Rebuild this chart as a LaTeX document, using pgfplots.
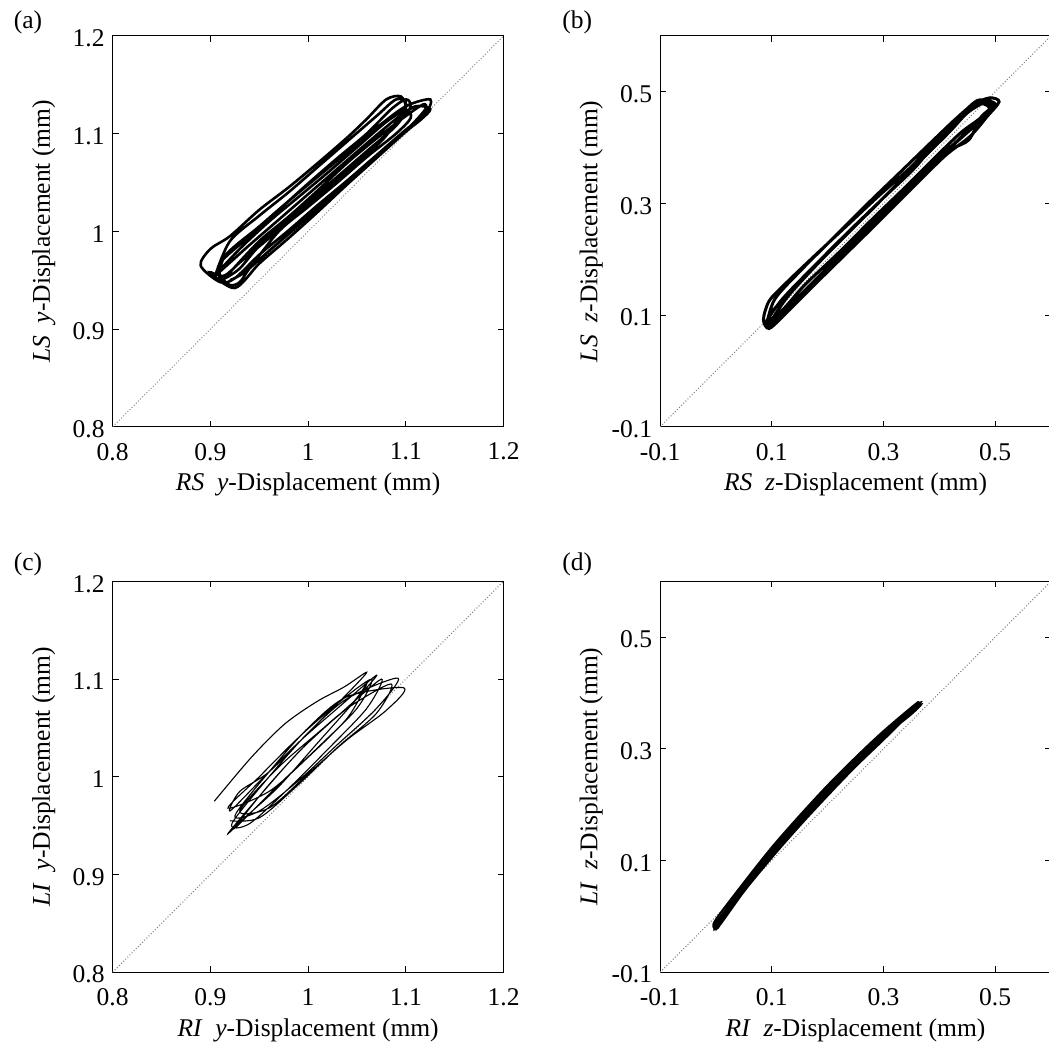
\documentclass[border=0pt]{standalone}
\usepackage{pgfplots}
\pgfplotsset{compat=1.18}
\usepackage{fontspec}
\setmainfont{Liberation Serif}
\begin{document}
\pgfplotsset{
  panel/.style={
    width=196pt,height=196pt,scale only axis,
    axis line style={line width=0.5pt},
    tick style={line width=0.5pt,black},
    tick align=inside, major tick length=3pt,
    xtick pos=both, ytick pos=both,
    font=\fontsize{12.8}{15}\selectfont,
    xticklabel style={anchor=center,yshift=-12.5pt},
    yticklabel style={anchor=east,yshift=-1.2pt,xshift=-0.5pt},
    xlabel style={at={(axis description cs:0.5,-0.148)},anchor=center},
    ylabel style={at={(axis description cs:-0.176,0.5)},anchor=center},
    clip=true,
  },
  pyy/.style={panel,xmin=0.8,xmax=1.2,ymin=0.8,ymax=1.2,
    xtick={0.8,0.9,1,1.1,1.2},xticklabels={0.8,0.9,1,1.1,1.2},
    ytick={0.8,0.9,1,1.1,1.2},yticklabels={0.8,0.9,1,1.1,1.2}},
  pzz/.style={panel,xmin=-0.1,xmax=0.6,ymin=-0.1,ymax=0.6,
    xtick={-0.1,0.1,0.3,0.5},xticklabels={-0.1,0.1,0.3,0.5},
    ytick={-0.1,0.1,0.3,0.5},yticklabels={-0.1,0.1,0.3,0.5}},
}
\begin{tikzpicture}
\useasboundingbox (0,0) rectangle (523.5pt,-524.5pt);
% (a)
\begin{axis}[pyy,anchor=north west,at={(54pt,-18pt)},
  xlabel={\textit{RS}\ \ \textit{y}-Displacement (mm)},
  ylabel={\textit{LS}\ \ \textit{y}-Displacement (mm)}]
\addplot[gray,densely dotted,line width=0.5pt] coordinates {(0.8,0.8)(1.2,1.2)};
\addplot[black,line width=1.3pt,smooth,tension=0.5] coordinates {
(0.905,0.955)(0.92,0.990)(0.95,1.016)(0.98,1.040)(1.01,1.066)(1.04,1.092)(1.07,1.118)(1.09,1.135)(1.10,1.130)(1.08,1.098)(1.05,1.070)(1.02,1.045)(0.99,1.020)(0.96,0.993)(0.93,0.968)(0.91,0.950)
(0.915,0.975)(0.95,1.005)(0.98,1.031)(1.01,1.056)(1.04,1.081)(1.07,1.106)(1.10,1.128)(1.125,1.135)(1.12,1.12)(1.10,1.104)(1.07,1.078)(1.04,1.052)(1.01,1.027)(0.98,1.001)(0.95,0.976)(0.925,0.952)(0.91,0.948)
(0.89,0.965)(0.90,0.982)(0.92,0.995)(0.95,1.022)(0.98,1.045)(1.01,1.070)(1.04,1.096)(1.06,1.115)(1.08,1.135)(1.095,1.138)(1.10,1.125)(1.09,1.108)(1.06,1.082)(1.03,1.056)(1.00,1.030)(0.97,1.004)(0.94,0.978)(0.915,0.955)(0.90,0.958)
(0.925,0.942)(0.95,0.967)(0.98,0.993)(1.01,1.020)(1.04,1.048)(1.07,1.075)(1.10,1.102)(1.115,1.114)(1.125,1.125)(1.11,1.128)(1.09,1.115)(1.06,1.09)(1.03,1.064)(1.00,1.038)(0.97,1.012)(0.94,0.986)(0.92,0.968)(0.905,0.955)
(0.93,0.982)(0.96,1.010)(0.99,1.035)(1.02,1.060)(1.05,1.086)(1.08,1.112)(1.10,1.124)(1.105,1.116)(1.09,1.10)(1.06,1.076)(1.03,1.05)(1.00,1.025)(0.97,1.0)(0.94,0.962)(0.93,0.948)(0.92,0.945)(0.91,0.955)
(0.91,0.968)(0.94,0.995)(0.97,1.022)(1.00,1.049)(1.03,1.075)(1.06,1.100)(1.085,1.125)(1.10,1.135)(1.105,1.128)(1.095,1.114)(1.07,1.090)(1.04,1.062)(1.01,1.036)(0.98,1.010)(0.95,0.985)(0.93,0.962)(0.915,0.952)
(0.92,0.958)(0.95,0.990)(0.98,1.015)(1.01,1.042)(1.04,1.070)(1.07,1.095)(1.10,1.118)(1.118,1.130)(1.12,1.125)(1.105,1.108)(1.08,1.085)(1.05,1.060)(1.02,1.033)(0.99,1.006)(0.96,0.980)(0.935,0.958)(0.92,0.950)
};
\end{axis}
% (b)
\begin{axis}[pzz,anchor=north west,at={(328.5pt,-18pt)},
  xlabel={\textit{RS}\ \ \textit{z}-Displacement (mm)},
  ylabel={\textit{LS}\ \ \textit{z}-Displacement (mm)}]
\addplot[gray,densely dotted,line width=0.5pt] coordinates {(-0.1,-0.1)(0.6,0.6)};
\addplot[black,line width=1.5pt,smooth,tension=0.5] coordinates {
(0.09,0.08)(0.105,0.128)(0.15,0.178)(0.21,0.238)(0.27,0.298)(0.33,0.356)(0.39,0.414)(0.43,0.452)(0.46,0.477)(0.49,0.489)(0.507,0.482)(0.485,0.455)(0.455,0.42)(0.41,0.385)(0.35,0.326)(0.29,0.266)(0.23,0.207)(0.17,0.148)(0.12,0.098)(0.095,0.076)
(0.085,0.092)(0.095,0.125)(0.12,0.152)(0.17,0.200)(0.23,0.256)(0.29,0.312)(0.35,0.366)(0.40,0.42)(0.44,0.458)(0.475,0.485)(0.50,0.476)(0.47,0.445)(0.44,0.418)(0.40,0.382)(0.34,0.322)(0.28,0.262)(0.22,0.202)(0.16,0.143)(0.11,0.094)(0.09,0.085)
(0.095,0.085)(0.13,0.135)(0.19,0.20)(0.25,0.26)(0.31,0.32)(0.37,0.38)(0.41,0.425)(0.44,0.455)(0.465,0.48)(0.49,0.47)(0.46,0.44)(0.43,0.41)(0.38,0.365)(0.32,0.305)(0.26,0.245)(0.20,0.185)(0.14,0.125)(0.10,0.085)
(0.09,0.088)(0.12,0.13)(0.18,0.192)(0.24,0.252)(0.30,0.31)(0.36,0.368)(0.41,0.432)(0.44,0.46)(0.47,0.485)(0.50,0.478)(0.475,0.455)(0.453,0.414)(0.42,0.395)(0.36,0.34)(0.30,0.283)(0.24,0.225)(0.18,0.165)(0.13,0.115)(0.095,0.082)
(0.10,0.105)(0.14,0.15)(0.20,0.212)(0.26,0.27)(0.32,0.33)(0.38,0.39)(0.42,0.43)(0.45,0.462)(0.48,0.48)(0.495,0.472)(0.47,0.45)(0.44,0.428)(0.40,0.39)(0.34,0.33)(0.28,0.272)(0.22,0.212)(0.16,0.155)(0.12,0.11)(0.095,0.09)
};
\end{axis}
% (c)
\begin{axis}[pyy,anchor=north west,at={(54pt,-291.5pt)},
  xlabel={\textit{RI}\ \ \textit{y}-Displacement (mm)},
  ylabel={\textit{LI}\ \ \textit{y}-Displacement (mm)}]
\addplot[gray,densely dotted,line width=0.5pt] coordinates {(0.8,0.8)(1.2,1.2)};
\addplot[black,line width=0.55pt,smooth,tension=0.5] coordinates {
(0.904,0.975)(0.942,1.020)(0.976,1.054)(1.009,1.077)(1.037,1.092)(1.06,1.107)(1.04,1.085)(1.00,1.045)(0.96,1.005)(0.93,0.985)
(0.92,0.965)(0.95,0.995)(0.99,1.035)(1.03,1.070)(1.07,1.104)(1.05,1.080)(1.01,1.035)(0.97,0.990)(0.935,0.958)
(0.918,0.942)(0.95,0.980)(0.99,1.025)(1.03,1.062)(1.075,1.100)(1.06,1.070)(1.02,1.028)(0.98,0.988)(0.94,0.952)
(0.922,0.952)(0.96,1.000)(1.00,1.045)(1.04,1.080)(1.092,1.101)(1.07,1.070)(1.03,1.033)(0.99,0.996)(0.95,0.965)
(0.925,0.960)(0.96,1.005)(1.00,1.050)(1.04,1.082)(1.098,1.091)(1.08,1.068)(1.04,1.038)(1.00,1.003)(0.96,0.968)
(0.93,0.965)(0.97,1.010)(1.01,1.045)(1.045,1.075)(1.06,1.095)(1.04,1.060)(1.00,1.020)(0.96,0.985)
(0.918,0.968)(0.95,1.000)(0.99,1.040)(1.03,1.075)(1.065,1.100)(1.05,1.070)(1.01,1.030)(0.97,0.992)(0.94,0.962)
(0.925,0.948)(0.96,0.992)(1.00,1.035)(1.04,1.070)(1.085,1.095)(1.07,1.065)(1.03,1.030)(0.99,0.992)(0.95,0.958)(0.92,0.955)
};
\end{axis}
% (d)
\begin{axis}[pzz,anchor=north west,at={(328.5pt,-291.5pt)},
  xlabel={\textit{RI}\ \ \textit{z}-Displacement (mm)},
  ylabel={\textit{LI}\ \ \textit{z}-Displacement (mm)}]
\addplot[gray,densely dotted,line width=0.5pt] coordinates {(-0.1,-0.1)(0.6,0.6)};
\addplot[black,line width=0.9pt,smooth,tension=0.5] coordinates {
(0.002,-0.020)(0.05,0.059)(0.10,0.121)(0.15,0.178)(0.20,0.232)(0.25,0.282)(0.30,0.330)(0.365,0.382)(0.34,0.356)(0.30,0.316)(0.25,0.268)(0.20,0.216)(0.15,0.162)(0.10,0.105)(0.05,0.044)(0.005,-0.018)
(0.000,-0.012)(0.05,0.055)(0.10,0.117)(0.15,0.174)(0.20,0.228)(0.25,0.278)(0.30,0.326)(0.36,0.378)(0.33,0.346)(0.30,0.319)(0.25,0.271)(0.20,0.220)(0.15,0.165)(0.10,0.109)(0.05,0.047)(0.003,-0.016)
(-0.002,-0.008)(0.05,0.061)(0.10,0.124)(0.15,0.181)(0.20,0.235)(0.25,0.285)(0.30,0.332)(0.362,0.384)(0.345,0.362)(0.30,0.322)(0.25,0.274)(0.20,0.223)(0.15,0.168)(0.10,0.112)(0.05,0.050)(0.004,-0.020)
(0.010,-0.004)(0.06,0.069)(0.12,0.143)(0.18,0.207)(0.24,0.270)(0.30,0.328)(0.35,0.370)(0.368,0.380)(0.35,0.362)(0.30,0.321)(0.24,0.265)(0.18,0.201)(0.12,0.134)(0.06,0.060)(0.005,-0.015)
(0.000,-0.016)(0.055,0.062)(0.11,0.131)(0.17,0.196)(0.23,0.258)(0.29,0.318)(0.34,0.364)(0.366,0.383)(0.35,0.364)(0.30,0.324)(0.25,0.277)(0.19,0.216)(0.13,0.150)(0.07,0.075)(0.02,0.008)(0.002,-0.018)
};
\end{axis}
\node[font=\fontsize{12.8}{15}\selectfont] at (11.5pt,-11pt) {(a)};
\node[font=\fontsize{12.8}{15}\selectfont] at (287pt,-11pt) {(b)};
\node[font=\fontsize{12.8}{15}\selectfont] at (11.5pt,-283pt) {(c)};
\node[font=\fontsize{12.8}{15}\selectfont] at (287pt,-283pt) {(d)};
\end{tikzpicture}
\end{document}
